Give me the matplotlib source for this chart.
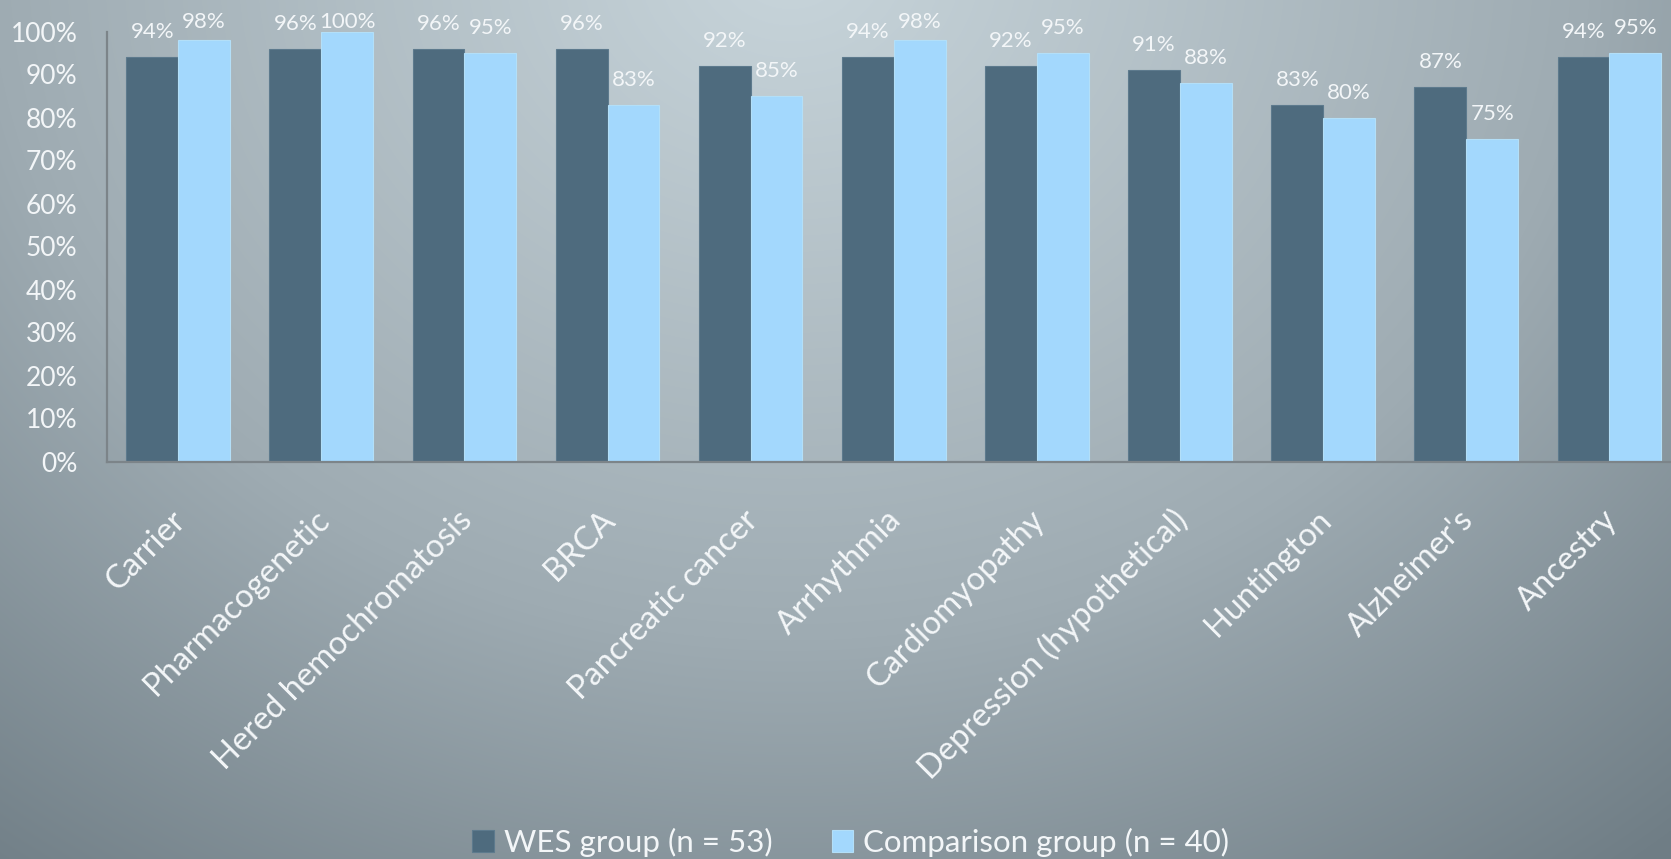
import numpy as np
import matplotlib
matplotlib.use("Agg")
import matplotlib.pyplot as plt
from matplotlib.transforms import offset_copy
from matplotlib.ticker import PercentFormatter

plt.rcParams['font.family'] = ['Lato', 'DejaVu Sans']

categories = ["Carrier", "Pharmacogenetic", "Hered hemochromatosis", "BRCA",
              "Pancreatic cancer", "Arrhythmia", "Cardiomyopathy",
              "Depression (hypothetical)", "Huntington", "Alzheimer's", "Ancestry"]
wes = [0.94, 0.96, 0.96, 0.96, 0.92, 0.94, 0.92, 0.91, 0.83, 0.87, 0.94]
comparison = [0.98, 1.00, 0.95, 0.83, 0.85, 0.98, 0.95, 0.88, 0.80, 0.75, 0.95]
series_names = ["WES group (n = 53)", "Comparison group (n = 40)"]

dark = "#4e6b7e"
light = "#a3d8fd"
txt = "#f3f6f8"

W, H = 1671, 859
fig = plt.figure(figsize=(W / 100, H / 100), dpi=100)

# soft radial background, brightest at the top centre
bg = fig.add_axes([0, 0, 1, 1], zorder=-1)
yy, xx = np.mgrid[0:H, 0:W]
d = np.sqrt(((xx - 790) / 1000.0) ** 2 + ((yy + 40) / 850.0) ** 2)
stops = [0.0, 0.8, 1.35, 2.0]
cols = np.array([[200, 213, 219], [158, 171, 178], [112, 126, 134], [100, 113, 121]]) / 255.0
img = np.dstack([np.interp(d, stops, cols[:, k]) for k in range(3)])
bg.imshow(img, aspect='auto', extent=[0, 1, 0, 1], origin='upper')
bg.axis('off')

ax = fig.add_axes([106.6 / W, 397.5 / H, (1681 - 106.6) / W, 430 / H])
ax.set_facecolor('none')

x = np.arange(len(categories))
bw = 0.362
b1 = ax.bar(x - bw / 2, wes, bw, color=dark, edgecolor="#5d7a8d", linewidth=0.8, label=series_names[0])
b2 = ax.bar(x + bw / 2, comparison, bw, color=light, edgecolor="#b3dff8", linewidth=0.8, label=series_names[1])

ax.set_xlim(-0.5, len(categories) - 0.5)
ax.set_ylim(0, 1.0)
ax.set_yticks(np.arange(0, 1.01, 0.1))
ax.yaxis.set_major_formatter(PercentFormatter(1.0, decimals=0))
ax.tick_params(axis='y', length=0, pad=21, labelsize=19, labelcolor=txt)
ax.set_xticks([])

for s in ['top', 'right']:
    ax.spines[s].set_visible(False)
for s in ['left', 'bottom']:
    ax.spines[s].set_color("#7c8489")
    ax.spines[s].set_linewidth(1.6)

# value labels, kept inside the top of the chart
for xs, vals in [(x - bw / 2, wes), (x + bw / 2, comparison)]:
    for xi, v in zip(xs, vals):
        ax.text(xi, min(v + 0.058, 1.021), f"{v * 100:.0f}%", ha='center', va='center',
                fontsize=16, color=txt, clip_on=False)

# rotated category names
base = ax.get_xaxis_transform()
for xi, name in zip(x, categories):
    tr = offset_copy(base, fig=fig, x=3, y=-54, units='dots')
    ax.text(xi, 0, name, transform=tr, rotation=45, rotation_mode='anchor',
            ha='right', va='center', fontsize=23.5, color=txt)

leg = fig.legend(handles=[b1, b2], loc='center', bbox_to_anchor=(0.509, 0.019), ncol=2,
                 frameon=False, fontsize=22.5, labelcolor=txt, handlelength=0.7,
                 handleheight=0.7, handletextpad=0.3, columnspacing=1.9)

fig.savefig("out.png", dpi=100)
